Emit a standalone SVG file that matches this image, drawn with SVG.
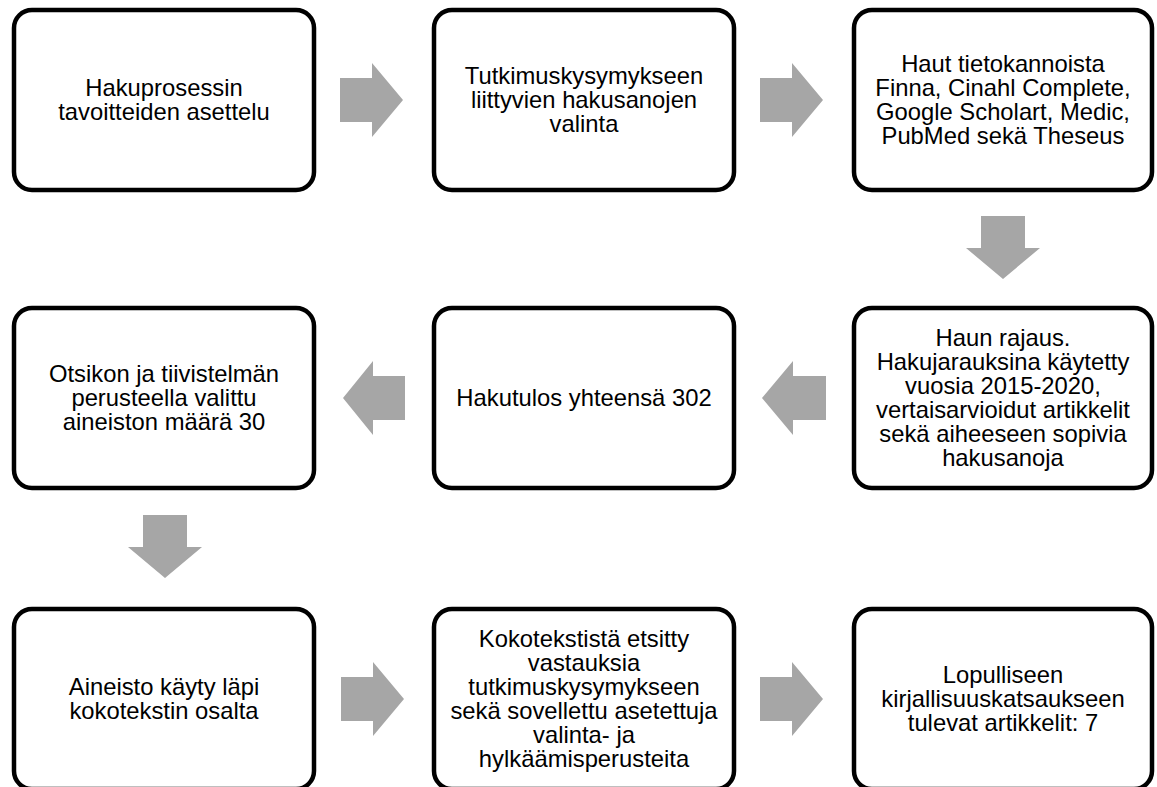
<svg xmlns="http://www.w3.org/2000/svg" width="1157" height="787" viewBox="0 0 1157 787">
<style>
.box{fill:#ffffff;stroke:#000000;stroke-width:4.5}
.lbl{font-family:"Liberation Sans",Arial,sans-serif;font-size:23.8px;fill:#000000;text-anchor:middle}
.arr{fill:#a6a6a6}
</style>
<rect width="1157" height="787" fill="#ffffff"/>
<g id="connectors">
<polygon class="arr" points="340,78 372,78 372,63 403,100 372,137 372,122 340,122"/>
<polygon class="arr" points="760,78 792,78 792,63 823,100 792,137 792,122 760,122"/>
<polygon class="arr" points="981,216 1025,216 1025,248 1040,248 1003,279 966,248 981,248"/>
<polygon class="arr" points="826,376 793,376 793,361 762,398 793,435 793,420 826,420"/>
<polygon class="arr" points="405,376 373,376 373,361 343,398 373,435 373,420 405,420"/>
<polygon class="arr" points="143,515 187,515 187,547 202,547 165,578 128,547 143,547"/>
<polygon class="arr" points="341,677 373,677 373,662 404,699 373,736 373,721 341,721"/>
<polygon class="arr" points="760,677 792,677 792,662 823,699 792,736 792,721 760,721"/>
</g>
<g id="n1"><rect class="box" x="14" y="10" width="300" height="180" rx="18"/>
<text class="lbl" x="164" y="96"><tspan x="164">Hakuprosessin</tspan><tspan x="164" dy="24">tavoitteiden asettelu</tspan></text></g>
<g id="n2"><rect class="box" x="434" y="10" width="300" height="180" rx="18"/>
<text class="lbl" x="584" y="84"><tspan x="584">Tutkimuskysymykseen</tspan><tspan x="584" dy="24">liittyvien hakusanojen</tspan><tspan x="584" dy="24">valinta</tspan></text></g>
<g id="n3"><rect class="box" x="854" y="10" width="298" height="180" rx="18"/>
<text class="lbl" x="1003" y="72"><tspan x="1003">Haut tietokannoista</tspan><tspan x="1003" dy="24">Finna, Cinahl Complete,</tspan><tspan x="1003" dy="24">Google Scholart, Medic,</tspan><tspan x="1003" dy="24">PubMed sekä Theseus</tspan></text></g>
<g id="n6"><rect class="box" x="854" y="308" width="298" height="180" rx="18"/>
<text class="lbl" x="1003" y="346"><tspan x="1003">Haun rajaus.</tspan><tspan x="1003" dy="24">Hakujarauksina käytetty</tspan><tspan x="1003" dy="24">vuosia 2015-2020,</tspan><tspan x="1003" dy="24">vertaisarvioidut artikkelit</tspan><tspan x="1003" dy="24">sekä aiheeseen sopivia</tspan><tspan x="1003" dy="24">hakusanoja</tspan></text></g>
<g id="n5"><rect class="box" x="434" y="308" width="300" height="180" rx="18"/>
<text class="lbl" x="584" y="406">Hakutulos yhteensä 302</text></g>
<g id="n4"><rect class="box" x="14" y="308" width="300" height="180" rx="18"/>
<text class="lbl" x="164" y="382"><tspan x="164">Otsikon ja tiivistelmän</tspan><tspan x="164" dy="24">perusteella valittu</tspan><tspan x="164" dy="24">aineiston määrä 30</tspan></text></g>
<g id="n7"><rect class="box" x="14" y="609" width="300" height="180" rx="18"/>
<text class="lbl" x="164" y="695"><tspan x="164">Aineisto käyty läpi</tspan><tspan x="164" dy="24">kokotekstin osalta</tspan></text></g>
<g id="n8"><rect class="box" x="434" y="609" width="300" height="180" rx="18"/>
<text class="lbl" x="584" y="647"><tspan x="584">Kokotekstistä etsitty</tspan><tspan x="584" dy="24">vastauksia</tspan><tspan x="584" dy="24">tutkimuskysymykseen</tspan><tspan x="584" dy="24">sekä sovellettu asetettuja</tspan><tspan x="584" dy="24">valinta- ja</tspan><tspan x="584" dy="24">hylkäämisperusteita</tspan></text></g>
<g id="n9"><rect class="box" x="854" y="609" width="298" height="180" rx="18"/>
<text class="lbl" x="1003" y="683"><tspan x="1003">Lopulliseen</tspan><tspan x="1003" dy="24">kirjallisuuskatsaukseen</tspan><tspan x="1003" dy="24">tulevat artikkelit: 7</tspan></text></g>
</svg>
